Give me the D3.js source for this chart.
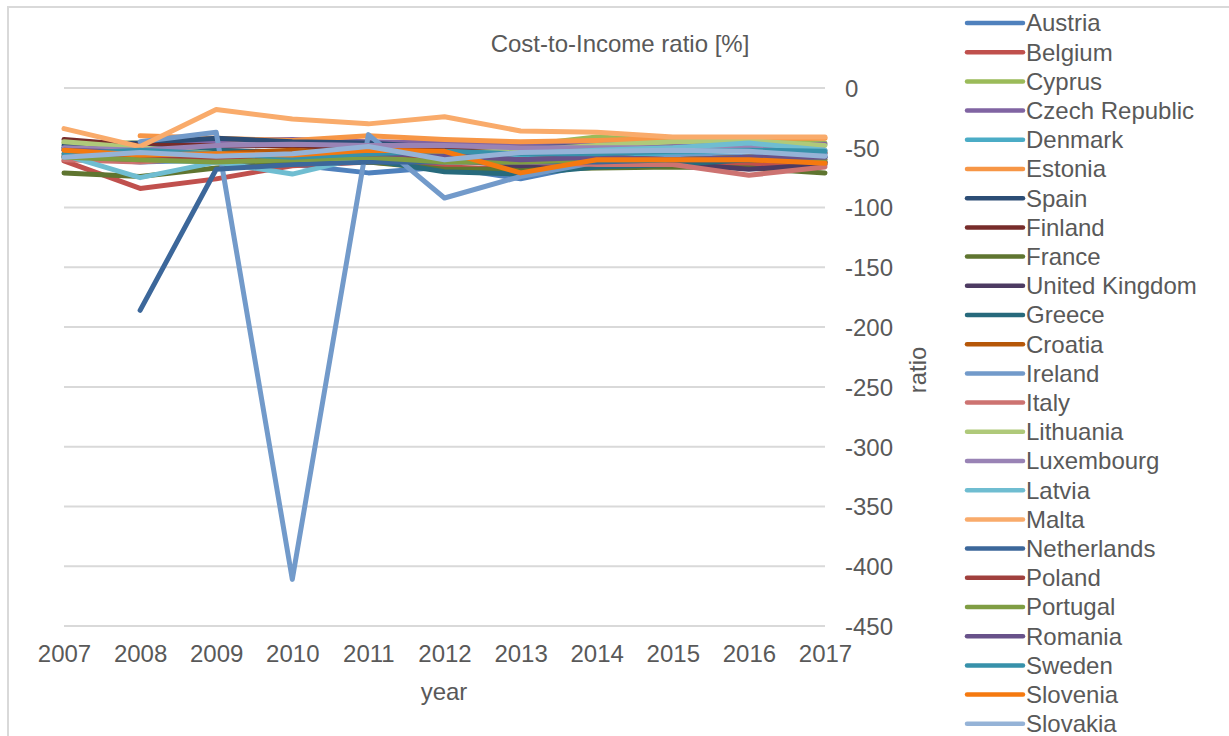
<!DOCTYPE html>
<html lang="en">
<head>
<meta charset="UTF-8">
<title>Cost-to-Income ratio</title>
<script src="https://d3js.org/d3.v7.min.js"></script>
<style>
    body { margin: 0; background: #fff; }
    text { font-family: "Liberation Sans", Arial, sans-serif; fill: #595959; }
</style>
</head>
<body>
<script>
const years = [2007, 2008, 2009, 2010, 2011, 2012, 2013, 2014, 2015, 2016, 2017];
const yTicks = [0, -50, -100, -150, -200, -250, -300, -350, -400, -450];

const countries = ["Austria", "Belgium", "Cyprus", "Czech Republic", "Denmark", "Estonia", "Spain",
    "Finland", "France", "United Kingdom", "Greece", "Croatia", "Ireland", "Italy", "Lithuania",
    "Luxembourg", "Latvia", "Malta", "Netherlands", "Poland", "Portugal", "Romania", "Sweden",
    "Slovenia", "Slovakia"];

const colors = ["#4f81bd", "#c0504d", "#9bbb59", "#8064a2", "#4bacc6", "#f79646", "#2c4d75",
    "#772c2a", "#5f7530", "#4d3b62", "#276a7c", "#b65708", "#729aca", "#cd7371", "#afc97a",
    "#9983b5", "#6fbdd1", "#f9ab6b", "#3c679a", "#a0403d", "#7f9d43", "#68528a", "#3791aa",
    "#f5790f", "#95b3d7"];

// one row per country, 2007..2017 (null = no value)
const austria     = [-58, -62, -60, -64, -71, -66, -76, -63, -62, -62, -62];
const belgium     = [-61, -84, -76, -65, -62, -66, -68, -65, -63, -64, -63];
const cyprus      = [-46, -46, -52, -56, -52, -48, -48, -41, -44, -44, -46];
const czech       = [-50, -50, -44, -43, -45, -46, -47, -46, -46, -48, -47];
const denmark     = [-58, -60, -62, -58, -56, -58, -58, -57, -56, -57, -57];
const estonia     = [null, -40, -42, -44, -40, -43, -45, -44, -42, -42, -42];
const spain       = [-48, -46, -42, -45, -46, -50, -50, -49, -50, -52, -55];
const finland     = [-43, -48, -48, -48, -52, -52, -50, -52, -52, -52, -54];
const france      = [-71, -74, -67, -63, -62, -68, -68, -67, -66, -67, -71];
const uk          = [-52, -50, -52, -54, -55, -60, -65, -62, -63, -68, -64];
const greece      = [-50, -55, -52, -55, -60, -70, -72, -66, -64, -60, -62];
const croatia     = [-55, -58, -55, -52, -55, -60, -62, -60, -60, -60, -62];
const ireland     = [null, -45, -37, -411, -39, -92, -74, -62, -58, -57, -56];
const italy       = [-60, -62, -58, -58, -60, -62, -62, -64, -64, -73, -66];
const lithuania   = [-45, -50, -55, -60, -58, -55, -52, -48, -45, -44, -48];
const luxembourg  = [-50, -52, -48, -47, -48, -48, -50, -50, -50, -50, -52];
const latvia      = [-56, -75, -62, -72, -57, -55, -55, -52, -50, -46, -52];
const malta       = [-34, -49, -18, -26, -30, -24, -36, -37, -41, -41, -41];
const netherlands = [null, -186, -68, -64, -62, -62, -62, -62, -60, -60, -58];
const poland      = [-57, -60, -58, -57, -57, -58, -60, -58, -60, -58, -60];
const portugal    = [-58, -60, -62, -60, -58, -62, -62, -60, -60, -58, -60];
const romania     = [-52, -54, -56, -56, -55, -56, -60, -58, -60, -58, -58];
const sweden      = [-55, -52, -55, -58, -55, -53, -55, -55, -53, -52, -53];
const slovenia    = [-52, -56, -55, -56, -52, -53, -71, -60, -60, -60, -63];
const slovakia    = [-58, -54, -57, -55, -49, -60, -54, -53, -52, -53, -57];

const values = [austria, belgium, cyprus, czech, denmark, estonia, spain, finland, france, uk,
    greece, croatia, ireland, italy, lithuania, luxembourg, latvia, malta, netherlands, poland,
    portugal, romania, sweden, slovenia, slovakia];

const W = 1229, H = 736;
const svg = d3.select("body").append("svg")
    .attr("width", W)
    .attr("height", H);

// chart frame
svg.append("rect")
    .attr("x", 8).attr("y", 7)
    .attr("width", W + 20).attr("height", H + 20)
    .attr("fill", "none")
    .attr("stroke", "#d9d9d9")
    .attr("stroke-width", 2);

const x = d3.scaleLinear().domain([2007, 2017]).range([64, 825]);
const y = d3.scaleLinear().domain([-450, 0]).range([626, 88]);

// gridlines
svg.append("g").selectAll("line")
    .data(yTicks)
    .enter().append("line")
    .attr("x1", x.range()[0]).attr("x2", x.range()[1])
    .attr("y1", d => y(d)).attr("y2", d => y(d))
    .attr("stroke", "#d9d9d9")
    .attr("stroke-width", 2);

// y axis on the right, labels only (plain hyphen minus like the original)
const yAxis = svg.append("g")
    .attr("transform", "translate(" + (x.range()[1] + 20) + ",0)")
    .call(d3.axisRight(y).tickValues(yTicks).tickSize(0).tickPadding(0).tickFormat(d => String(d)));
yAxis.select(".domain").remove();
yAxis.selectAll("text")
    .style("font-size", "24px")
    .attr("dy", "0.35em");

// x axis labels
const xAxis = svg.append("g")
    .attr("transform", "translate(0," + (y(-450) + 19) + ")")
    .call(d3.axisBottom(x).tickValues(years).tickSize(0).tickPadding(0).tickFormat(d => String(d)));
xAxis.select(".domain").remove();
xAxis.selectAll("text")
    .style("font-size", "24px")
    .attr("dy", "0.71em");

// titles
svg.append("text")
    .attr("x", 620).attr("y", 52)
    .attr("text-anchor", "middle")
    .style("font-size", "24px")
    .text("Cost-to-Income ratio [%]");

svg.append("text")
    .attr("x", 444).attr("y", 700)
    .attr("text-anchor", "middle")
    .style("font-size", "24px")
    .text("year");

svg.append("text")
    .attr("transform", "translate(926,370) rotate(-90)")
    .attr("text-anchor", "middle")
    .style("font-size", "24px")
    .text("ratio");

// series
const line = d3.line()
    .defined(d => d != null)
    .x((d, i) => x(years[i]))
    .y(d => y(d));

svg.append("g").selectAll("path")
    .data(values)
    .enter().append("path")
    .attr("d", line)
    .attr("fill", "none")
    .attr("stroke", (d, i) => colors[i])
    .attr("stroke-width", 5)
    .attr("stroke-linejoin", "round")
    .attr("stroke-linecap", "round");

// legend
const legend = svg.append("g").selectAll("g")
    .data(countries)
    .enter().append("g")
    .attr("transform", (d, i) => "translate(967," + (23 + i * 29.2) + ")");

legend.append("line")
    .attr("x1", 0).attr("x2", 56)
    .attr("stroke", (d, i) => colors[i])
    .attr("stroke-width", 4.5)
    .attr("stroke-linecap", "round");

legend.append("text")
    .attr("x", 59)
    .attr("dy", "0.35em")
    .style("font-size", "24px")
    .text(d => d);
</script>
</body>
</html>
